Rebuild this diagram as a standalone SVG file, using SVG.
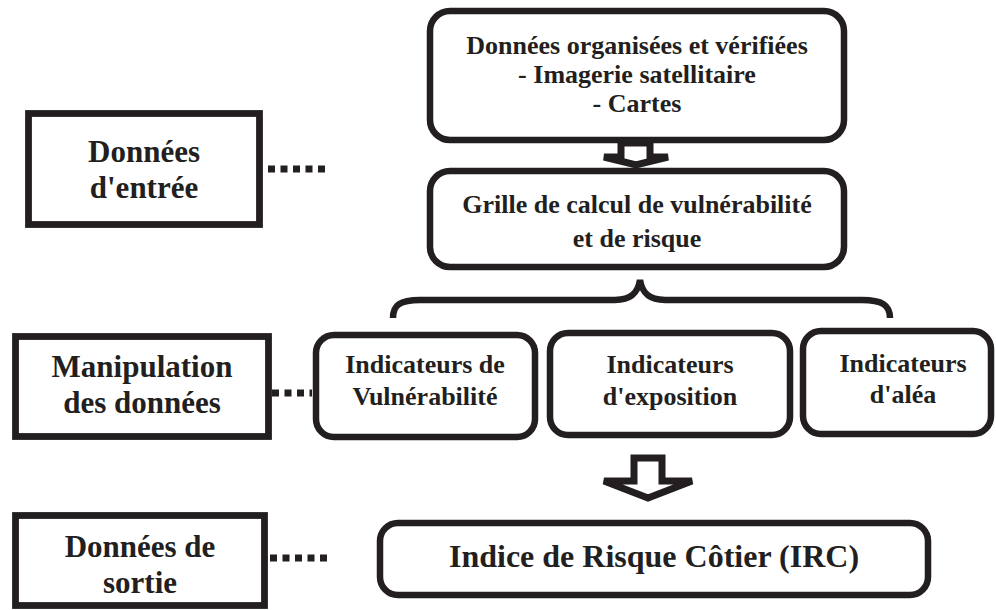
<svg xmlns="http://www.w3.org/2000/svg" width="996" height="610" viewBox="0 0 996 610">
<style>
.box{fill:#fff;stroke:#231f20;stroke-width:6.5}
.sq{fill:#fff;stroke:#231f20;stroke-width:6.8}
.t{font-family:"Liberation Serif","Times New Roman",serif;font-weight:bold;fill:#231f20;text-anchor:middle}
.s26{font-size:26px}
.s31{font-size:31px}
.s32{font-size:32px}
.dots{fill:none;stroke:#231f20;stroke-width:7;stroke-dasharray:7 5.5}
.arr{fill:#fff;stroke:#231f20;stroke-width:7;stroke-linejoin:miter}
.brace{fill:none;stroke:#231f20;stroke-width:6.5}
</style>
<g id="connectors">
<line class="dots" x1="268" y1="169" x2="325" y2="169"/>
<line class="dots" x1="272" y1="393" x2="312" y2="393"/>
<line class="dots" x1="270" y1="558" x2="328" y2="558"/>
<path class="arr" d="M621,143 H650 V157 H668 L636,165 L604,157 H621 Z"/>
<path class="brace" d="M393,318 C393,305 400,300 420,300 H615 C632,300 638,292 640,280 C642,292 648,300 665,300 H862 C882,300 890,305 890,318"/>
<path class="arr" d="M634,458 H662 V481 H692 L648,498 L604,481 H634 Z"/>
</g>
<g id="n-entree">
<rect class="sq" x="28.5" y="113.5" width="231" height="111"/>
<text class="t s31" x="144" y="162">Données</text>
<text class="t s31" x="144" y="198">d'entrée</text>
</g>
<g id="n-manip">
<rect class="sq" x="15.5" y="336.5" width="253" height="100"/>
<text class="t s31" x="142" y="377">Manipulation</text>
<text class="t s31" x="142" y="413">des données</text>
</g>
<g id="n-sortie">
<rect class="sq" x="15.5" y="515.5" width="249" height="90"/>
<text class="t s31" x="140" y="557">Données de</text>
<text class="t s31" x="140" y="593">sortie</text>
</g>
<g id="n-donnees">
<rect class="box" x="430" y="11" width="414" height="129" rx="20"/>
<text class="t s26" x="637" y="54">Données organisées et vérifiées</text>
<text class="t s26" x="637" y="83">- Imagerie satellitaire</text>
<text class="t s26" x="637" y="112">- Cartes</text>
</g>
<g id="n-grille">
<rect class="box" x="430" y="171" width="414" height="96" rx="20"/>
<text class="t s26" x="637" y="213">Grille de calcul de vulnérabilité</text>
<text class="t s26" x="637" y="247">et de risque</text>
</g>
<g id="n-vuln">
<rect class="box" x="316" y="335" width="219" height="102" rx="18"/>
<text class="t s26" x="425" y="373">Indicateurs de</text>
<text class="t s26" x="425" y="405">Vulnérabilité</text>
</g>
<g id="n-expo">
<rect class="box" x="550" y="333" width="240" height="102" rx="18"/>
<text class="t s26" x="670" y="373">Indicateurs</text>
<text class="t s26" x="670" y="405">d'exposition</text>
</g>
<g id="n-alea">
<rect class="box" x="803" y="331" width="188" height="103" rx="18"/>
<text class="t s26" x="903" y="372">Indicateurs</text>
<text class="t s26" x="903" y="403">d'aléa</text>
</g>
<g id="n-irc">
<rect class="box" x="380" y="523" width="548" height="72" rx="18"/>
<text class="t s32" x="654" y="567">Indice de Risque Côtier (IRC)</text>
</g>
</svg>
